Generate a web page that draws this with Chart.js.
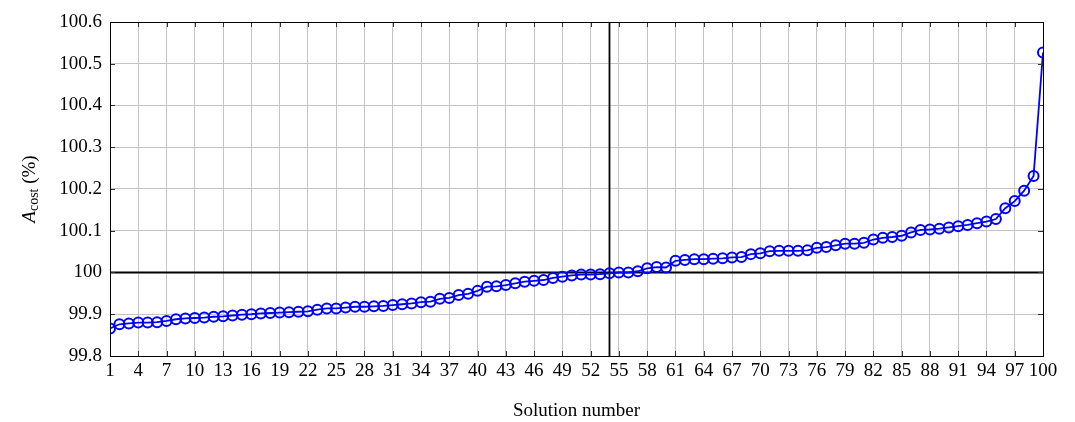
<!DOCTYPE html>
<html>
<head>
<meta charset="utf-8">
<script src="https://cdn.jsdelivr.net/npm/chart.js@4.4.1/dist/chart.umd.min.js"></script>
<style>
  html, body { margin: 0; padding: 0; background: #fff; }
  #wrap { width: 1075px; height: 422px; position: relative; }
</style>
</head>
<body>
<div id="wrap"><canvas id="cost-chart"></canvas></div>
<script>
// solution numbers (x) and cost values (y, %)
const solutionNumbers = [
  1, 2, 3, 4, 5, 6, 7, 8, 9, 10, 11, 12, 13, 14, 15, 16, 17, 18, 19, 20,
  21, 22, 23, 24, 25, 26, 27, 28, 29, 30, 31, 32, 33, 34, 35, 36, 37, 38, 39, 40,
  41, 42, 43, 44, 45, 46, 47, 48, 49, 50, 51, 52, 53, 54, 55, 56, 57, 58, 59, 60,
  61, 62, 63, 64, 65, 66, 67, 68, 69, 70, 71, 72, 73, 74, 75, 76, 77, 78, 79, 80,
  81, 82, 83, 84, 85, 86, 87, 88, 89, 90, 91, 92, 93, 94, 95, 96, 97, 98, 99, 100,
];
const costValues = [
  99.866, 99.876, 99.878, 99.88, 99.88, 99.881, 99.884, 99.888, 99.89, 99.891,
  99.892, 99.894, 99.895, 99.897, 99.899, 99.9, 99.902, 99.903, 99.904, 99.905,
  99.906, 99.907, 99.911, 99.914, 99.914, 99.916, 99.918, 99.918, 99.919, 99.92,
  99.922, 99.924, 99.926, 99.929, 99.93, 99.937, 99.939, 99.946, 99.949, 99.956,
  99.966, 99.967, 99.97, 99.974, 99.978, 99.98, 99.982, 99.987, 99.99, 99.993,
  99.995, 99.995, 99.996, 99.998, 100.0, 100.0, 100.003, 100.01, 100.013, 100.012,
  100.028, 100.03, 100.032, 100.032, 100.033, 100.034, 100.036, 100.037, 100.044, 100.046,
  100.051, 100.052, 100.052, 100.052, 100.053, 100.059, 100.061, 100.065, 100.069, 100.069,
  100.071, 100.079, 100.083, 100.085, 100.088, 100.096, 100.102, 100.103, 100.105, 100.108,
  100.111, 100.114, 100.118, 100.122, 100.128, 100.154, 100.171, 100.196, 100.231, 100.527,
];
const xTicks = [1, 4, 7, 10, 13, 16, 19, 22, 25, 28, 31, 34, 37, 40, 43, 46, 49, 52,
  55, 58, 61, 64, 67, 70, 73, 76, 79, 82, 85, 88, 91, 94, 97, 100];
const yTicks = [99.8, 99.9, 100, 100.1, 100.2, 100.3, 100.4, 100.5, 100.6];
const refSolution = 54;
const refCost = 100;

const fontFamily = "'Liberation Serif', 'DejaVu Serif', serif";

// inward tick marks, plot frame and the y title with subscript
const decorations = {
  id: "decorations",
  afterDatasetsDraw(chart) {
    const { ctx, chartArea: a, scales } = chart;
    ctx.save();
    ctx.strokeStyle = "#333";
    ctx.lineWidth = 1;
    ctx.beginPath();
    xTicks.forEach((t) => {
      const x = Math.round(scales.x.getPixelForValue(t)) + 0.5;
      ctx.moveTo(x, a.bottom); ctx.lineTo(x, a.bottom - 5);
      ctx.moveTo(x, a.top); ctx.lineTo(x, a.top + 5);
    });
    yTicks.forEach((t) => {
      const y = Math.round(scales.y.getPixelForValue(t)) + 0.5;
      ctx.moveTo(a.left, y); ctx.lineTo(a.left + 5, y);
      ctx.moveTo(a.right, y); ctx.lineTo(a.right - 5, y);
    });
    ctx.stroke();
    ctx.strokeStyle = "#000";
    ctx.strokeRect(Math.round(a.left) + 0.5, Math.round(a.top) + 0.5,
      Math.round(a.right - a.left), Math.round(a.bottom - a.top));
    ctx.restore();

    // y axis title: A_cost (%)
    ctx.save();
    ctx.translate(30, (a.top + a.bottom) / 2);
    ctx.rotate(-Math.PI / 2);
    ctx.fillStyle = "#000";
    ctx.textBaseline = "middle";
    const parts = [
      { t: "A", f: "italic 19px " + fontFamily, dy: 0 },
      { t: "cost", f: "14px " + fontFamily, dy: 4 },
      { t: " (%)", f: "19px " + fontFamily, dy: 0 },
    ];
    let w = 0;
    parts.forEach((p) => { ctx.font = p.f; w += ctx.measureText(p.t).width; });
    let x = -w / 2;
    parts.forEach((p) => {
      ctx.font = p.f;
      ctx.textAlign = "left";
      ctx.fillText(p.t, x, p.dy);
      x += ctx.measureText(p.t).width;
    });
    ctx.restore();
  },
};

const costPoints = solutionNumbers.map((n, i) => ({ x: n, y: costValues[i] }));

new Chart(document.getElementById("cost-chart"), {
  type: "line",
  data: {
    datasets: [
      {
        label: "Acost",
        data: costPoints,
        borderColor: "#0000ff",
        borderWidth: 1.8,
        pointRadius: 5,
        pointBorderWidth: 2,
        pointBorderColor: "#0000ff",
        pointBackgroundColor: "rgba(0,0,0,0)",
        tension: 0,
        order: 0,
      },
      {
        label: "ref-h",
        data: [{ x: 1, y: refCost }, { x: 100, y: refCost }],
        borderColor: "#000",
        borderWidth: 1.8,
        pointRadius: 0,
        order: 1,
      },
      {
        label: "ref-v",
        data: [{ x: refSolution, y: 99.8 }, { x: refSolution, y: 100.6 }],
        borderColor: "#000",
        borderWidth: 1.8,
        pointRadius: 0,
        order: 1,
      },
    ],
  },
  options: {
    responsive: true,
    maintainAspectRatio: false,
    animation: false,
    layout: { padding: { left: 0, right: 32, top: 22, bottom: 0 } },
    plugins: {
      legend: { display: false },
      tooltip: { enabled: false },
    },
    scales: {
      x: {
        type: "linear",
        min: 1,
        max: 100,
        afterBuildTicks(scale) {
          scale.ticks = xTicks.map((v) => ({ value: v }));
        },
        afterFit(scale) { scale.height = 66; },
        ticks: {
          autoSkip: false,
          maxRotation: 0,
          padding: 4,
          color: "#000",
          font: { family: fontFamily, size: 19 },
          callback: (v) => String(v),
        },
        grid: { color: "#c4c4c4", lineWidth: 1, drawTicks: false },
        border: { display: false },
        title: {
          display: true,
          text: "Solution number",
          color: "#000",
          font: { family: fontFamily, size: 19 },
          padding: { top: 0, bottom: 0 },
        },
      },
      y: {
        type: "linear",
        min: 99.8,
        max: 100.6,
        afterBuildTicks(scale) {
          scale.ticks = yTicks.map((v) => ({ value: v }));
        },
        afterFit(scale) { scale.width = 110; },
        ticks: {
          padding: 8,
          color: "#000",
          font: { family: fontFamily, size: 19 },
          callback: (v) => String(Number(v.toFixed(1))),
        },
        grid: { color: "#c4c4c4", lineWidth: 1, drawTicks: false },
        border: { display: false },
      },
    },
  },
  plugins: [decorations],
});
</script>
</body>
</html>
